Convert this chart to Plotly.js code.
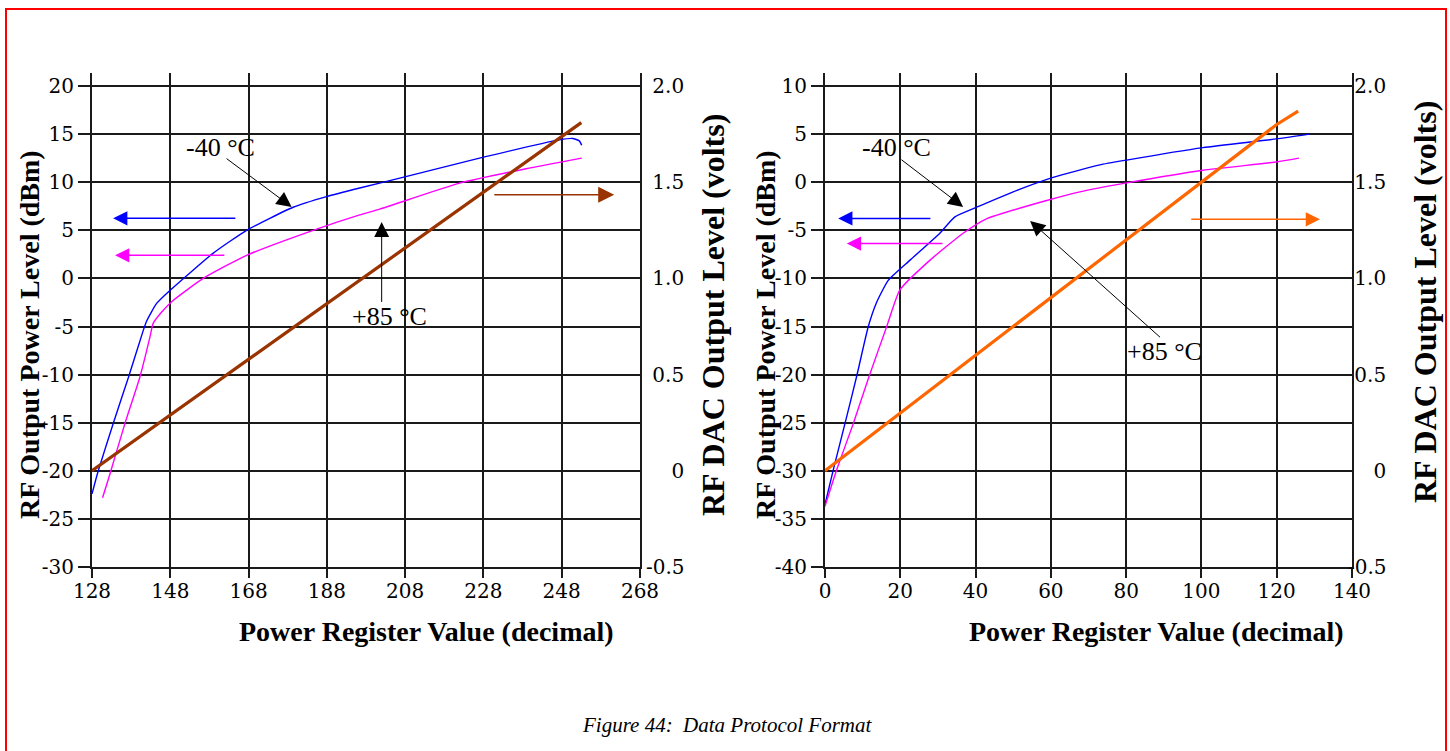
<!DOCTYPE html>
<html><head><meta charset="utf-8">
<script src="https://cdn.plot.ly/plotly-3.0.1.min.js"></script>
<style>html,body{margin:0;padding:0;background:#fff;overflow:hidden}#chart{width:1450px;height:751px}</style>
</head><body><div id="chart"></div>
<script>
// ---------- data: left chart (register 128..255) ----------
const leftRegBlue = [128, 129.6, 133.4, 137.3, 141.1, 142, 144.5, 147.9, 158.9, 167.5, 179.4, 187.9, 196.4, 207.4, 227, 247.4, 250.8, 252.5, 253.1];
const leftDbmBlue = [-22.4, -20, -15.1, -10.3, -5.4, -4.4, -2.6, -1.25, 2.6, 5.0, 7.4, 8.5, 9.4, 10.5, 12.5, 14.4, 14.55, 14.3, 13.85];
const leftRegMag  = [130.7, 132.6, 136.4, 140.2, 142.8, 143.6, 145.8, 148.7, 156.4, 167.5, 184.5, 196.4, 201.5, 221.9, 238.9, 253.1];
const leftDbmMag  = [-22.8, -20.3, -15.1, -10.3, -6.1, -4.7, -3.5, -2.3, 0, 2.4, 5.0, 6.6, 7.2, 9.9, 11.4, 12.5];
const leftRegDac  = [128, 148, 168, 188, 208, 228, 248, 253];
const leftVoltDac = [0, 0.29, 0.58, 0.87, 1.16, 1.45, 1.74, 1.81];
const leftXTicks  = [128, 148, 168, 188, 208, 228, 248, 268];
const leftYTicks  = [-30, -25, -20, -15, -10, -5, 0, 5, 10, 15, 20];
const leftYLabels = ['-30', '-25', '-20', '-15', '-10', '-5', '0', '5', '10', '15', '20'];

// ---------- data: right chart (register 0..127) ----------
const rightRegBlue = [0, 2.2, 5.3, 8.4, 11.5, 13.7, 16.8, 22.6, 30.5, 34.5, 40.3, 50, 60.6, 73, 80.1, 100.4, 119.9, 128.7];
const rightDbmBlue = [-33.5, -29.9, -25.1, -20.2, -15, -12.5, -10.2, -8.1, -5.3, -3.6, -2.6, -1.0, 0.5, 1.8, 2.3, 3.6, 4.5, 5.0];
const rightRegMag  = [0, 3.1, 7.5, 11.7, 16.4, 19.9, 27.9, 36.7, 42.9, 58.9, 67.7, 80.1, 100.4, 119.9, 125.9];
const rightDbmMag  = [-33.7, -29.9, -25.1, -20.2, -15.0, -11.2, -8.1, -5.3, -3.8, -1.9, -1.0, -0.07, 1.25, 2.1, 2.5];
const rightRegDac  = [0, 20, 40, 60, 80, 100, 120, 125.7];
const rightVoltDac = [0, 0.30, 0.60, 0.90, 1.20, 1.50, 1.80, 1.87];
const rightXTicks  = [0, 20, 40, 60, 80, 100, 120, 140];
const rightYTicks  = [-40, -35, -30, -25, -20, -15, -10, -5, 0, 5, 10];
const rightYLabels = ['-40', '-35', '-30', '-25', '-20', '-15', '-10', '-5', '0', '5', '10'];

const voltTicks  = [-0.5, 0, 0.5, 1.0, 1.5, 2.0];
const voltLabels = ['-0.5', '0', '0.5', '1.0', '1.5', '2.0'];

const tempLabels = ['-40 °C', '+85 °C'];
const xTitle = 'Power Register Value (decimal)';
const yTitle = 'RF Output Power Level (dBm)';
const y2Title = 'RF DAC Output Level (volts)';
const caption = 'Figure 44:\u00a0\u00a0Data Protocol Format';

// ---------- layout helpers ----------
const W = 1450, H = 751;
const px = v => v / W, py = v => 1 - v / H;
const padRight = s => { // right-align labels with no-break spaces
  const w = t => [...t].reduce((a, c) => a + (/[0-9]/.test(c) ? 2 : 1), 0);
  return '\u00a0'.repeat(Math.max(0, 6 - w(s))) + s;
};
const BLUE = '#0000ff', MAG = '#ff00ff', BROWN = '#993300', ORANGE = '#ff6600';
const GRID = '#1a1a1a';
const tickFont = {family: 'DejaVu Serif', size: 20, color: '#000'};
const serif = 'Liberation Serif';

const traces = [
  {x: leftRegBlue, y: leftDbmBlue, xaxis: 'x', yaxis: 'y', mode: 'lines', line: {color: BLUE, width: 1.4, shape: 'spline', smoothing: 0.5}},
  {x: leftRegMag, y: leftDbmMag, xaxis: 'x', yaxis: 'y', mode: 'lines', line: {color: MAG, width: 1.4, shape: 'spline', smoothing: 0.5}},
  {x: leftRegDac, y: leftVoltDac, xaxis: 'x', yaxis: 'y2', mode: 'lines', line: {color: BROWN, width: 3.2}},
  {x: rightRegBlue, y: rightDbmBlue, xaxis: 'x2', yaxis: 'y3', mode: 'lines', line: {color: BLUE, width: 1.4, shape: 'spline', smoothing: 0.5}},
  {x: rightRegMag, y: rightDbmMag, xaxis: 'x2', yaxis: 'y3', mode: 'lines', line: {color: MAG, width: 1.4, shape: 'spline', smoothing: 0.5}},
  {x: rightRegDac, y: rightVoltDac, xaxis: 'x2', yaxis: 'y4', mode: 'lines', line: {color: ORANGE, width: 3.2}}
];

const xCommon = {showgrid: true, gridcolor: GRID, gridwidth: 2, showline: true, linecolor: GRID, linewidth: 2,
  ticks: 'outside', ticklen: 9, tickwidth: 2, tickcolor: GRID, tickfont: tickFont, zeroline: false, tickmode: 'array',
  ticklabelstandoff: -4, fixedrange: true};
const yCommon = Object.assign({}, xCommon, {ticklen: 12, ticklabelstandoff: 0});
const y2Common = {showgrid: false, showline: true, linecolor: GRID, linewidth: 2, ticks: '', tickfont: tickFont,
  zeroline: false, tickmode: 'array', tickvals: voltTicks, ticktext: voltLabels.map(padRight), range: [-0.5, 2.0677], side: 'right', fixedrange: true};

const yDom = [py(567), py(73)];

const layout = {
  width: W, height: H, margin: {l: 0, r: 0, t: 0, b: 0},
  paper_bgcolor: '#fff', plot_bgcolor: '#fff', showlegend: false,
  xaxis: Object.assign({}, xCommon, {domain: [px(92), px(640)], range: [128, 268], tickvals: leftXTicks, ticktext: leftXTicks.map(String), anchor: 'y'}),
  yaxis: Object.assign({}, yCommon, {domain: yDom, range: [-30, 21.354], tickvals: leftYTicks, ticktext: leftYLabels, anchor: 'x'}),
  yaxis2: Object.assign({}, y2Common, {overlaying: 'y', anchor: 'x', ticklabelstandoff: 0}),
  xaxis2: Object.assign({}, xCommon, {domain: [px(825), px(1352)], range: [0, 140], tickvals: rightXTicks, ticktext: rightXTicks.map(String), anchor: 'y3'}),
  yaxis3: Object.assign({}, yCommon, {domain: yDom, range: [-40, 11.354], tickvals: rightYTicks, ticktext: rightYLabels, anchor: 'x2'}),
  yaxis4: Object.assign({}, y2Common, {overlaying: 'y3', anchor: 'x2', ticklabelstandoff: -10}),
  shapes: [
    {type: 'rect', xref: 'paper', yref: 'paper', x0: px(6), x1: px(1446), y0: py(9), y1: -0.05, line: {color: '#ff0000', width: 2}, fillcolor: 'rgba(0,0,0,0)'}
  ],
  annotations: []
};

const A = layout.annotations;
function arrow(xr, yr, x0, y0, x1, y1, color, w, size) {
  A.push({xref: xr, yref: yr, axref: xr, ayref: yr, ax: x0, ay: y0, x: x1, y: y1, text: '', showarrow: true,
    arrowhead: 2, arrowwidth: w, arrowsize: size, arrowcolor: color, standoff: 0, startstandoff: 0});
}
function label(xr, yr, x, y, t, size, extra) {
  A.push(Object.assign({xref: xr, yref: yr, x: x, y: y, text: t, showarrow: false, xanchor: 'center', yanchor: 'middle',
    font: {family: serif, size: size, color: '#000'}}, extra || {}));
}
// left chart annotations
arrow('x', 'y', 165, 6.25, 133.4, 6.25, BLUE, 1.5, 1.9);
arrow('x', 'y', 162.2, 2.4, 133.9, 2.4, MAG, 1.5, 1.9);
arrow('x', 'y', 230.4, 8.7, 261.4, 8.7, BROWN, 1.6, 2.0);
arrow('x', 'y', 162.0, 12.57, 179.0, 7.43, '#000', 1, 3.0);
arrow('x', 'y', 202.0, -2.6, 202.0, 5.86, '#000', 1, 3.0);
label('x', 'y', 160.7, 13.65, tempLabels[0], 26);
label('x', 'y', 204.1, -3.96, tempLabels[1], 26);
// right chart annotations
arrow('x2', 'y3', 28.4, -3.77, 3.5, -3.77, BLUE, 1.5, 1.9);
arrow('x2', 'y3', 31.6, -6.37, 5.8, -6.37, MAG, 1.5, 1.9);
arrow('x2', 'y3', 96.9, -3.85, 131.5, -3.85, ORANGE, 1.5, 1.9);
arrow('x2', 'y3', 19.9, 2.46, 36.7, -2.57, '#000', 1, 3.0);
arrow('x2', 'y3', 89.4, -16.25, 54.5, -4.02, '#000', 1, 3.0);
label('x2', 'y3', 19.1, 3.64, tempLabels[0], 26);
label('x2', 'y3', 90.3, -17.57, tempLabels[1], 26);
// axis titles
const bold = {family: serif, size: 28, color: '#000', weight: 'bold'};
const bold2 = {family: serif, size: 32, color: '#000', weight: 'bold'};
label('paper', 'paper', px(426), py(631), xTitle, 28, {font: bold});
label('paper', 'paper', px(1156), py(631), xTitle, 28, {font: bold});
label('paper', 'paper', px(29), py(335), yTitle, 28, {font: bold, textangle: -90});
label('paper', 'paper', px(765), py(335), yTitle, 28, {font: bold, textangle: -90});
label('paper', 'paper', px(713), py(315), y2Title, 32, {font: bold2, textangle: -90});
label('paper', 'paper', px(1425), py(302), y2Title, 32, {font: bold2, textangle: -90});
// caption
label('paper', 'paper', px(727), py(725), caption, 21, {font: {family: serif, size: 21, color: '#000', style: 'italic'}});

Plotly.newPlot('chart', traces, layout, {staticPlot: true, displayModeBar: false});
</script>
</body></html>
